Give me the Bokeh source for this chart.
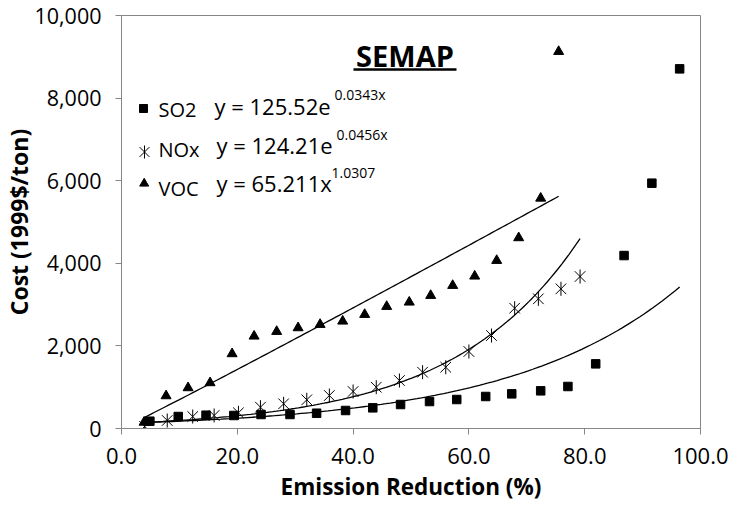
import math
from bokeh.plotting import figure
from bokeh.models import Label, NumeralTickFormatter, FixedTicker, Range1d
from bokeh.embed import file_html
from bokeh.resources import INLINE

# ---------------- data ----------------
so2_x = [4.9, 9.8, 14.6, 19.4, 24.1, 29.1, 33.7, 38.7, 43.4, 48.2,
         53.2, 57.9, 62.9, 67.4, 72.4, 77.1, 81.9, 86.8, 91.6, 96.4]
so2_y = [177, 290, 322, 315, 339, 339, 370, 436, 500, 581,
         653, 702, 775, 839, 912, 1017, 1565, 4188, 5940, 8708]

nox_x = [4.0, 7.9, 12.3, 16.0, 20.2, 24.0, 28.0, 32.0, 35.9, 40.0,
         44.0, 48.0, 52.0, 56.0, 60.0, 63.9, 67.9, 72.0, 75.9, 79.2]
nox_y = [50, 194, 290, 315, 380, 516, 598, 695, 799, 896,
         1000, 1162, 1363, 1484, 1864, 2251, 2913, 3140, 3382, 3680]

voc_x = [3.9, 7.7, 11.5, 15.3, 19.1, 22.9, 26.8, 30.5, 34.3, 38.2,
         42.0, 45.8, 49.7, 53.4, 57.2, 61.0, 64.8, 68.6, 72.4, 75.5]
voc_y = [150, 790, 985, 1106, 1808, 2235, 2348, 2437, 2518, 2598,
         2760, 2954, 3058, 3220, 3462, 3688, 4067, 4617, 5575, 9127]

# trendline coefficients (as printed on the chart)
so2_fit = (125.52, 0.0343)    # y = a * exp(b x)
nox_fit = (124.21, 0.0456)    # y = a * exp(b x)
voc_fit = (65.211, 1.0307)    # y = a * x^b

series_names = ["SO2", "NOx", "VOC"]
equations = [("y = 125.52e", "0.0343x"),
             ("y = 124.21e", "0.0456x"),
             ("y = 65.211x", "1.0307")]

x_ticks = [0, 20, 40, 60, 80, 100]
y_ticks = [0, 2000, 4000, 6000, 8000, 10000]

# ---------------- layout helpers ----------------
FL, FR, FT, FB = 120, 699, 15, 428
X0, X1, Y0, Y1 = 0, 100, 0, 10000


def dx(px):
    return X0 + (px - FL) / (FR - FL) * (X1 - X0)


def dy(py):
    return Y0 + (FB - py) / (FB - FT) * (Y1 - Y0)


def curve_exp(a, b, xs, n=120):
    lo, hi = min(xs), max(xs)
    xx = [lo + (hi - lo) * i / (n - 1) for i in range(n)]
    return xx, [a * math.exp(b * v) for v in xx]


def curve_pow(a, b, xs, n=120):
    lo, hi = min(xs), max(xs)
    xx = [lo + (hi - lo) * i / (n - 1) for i in range(n)]
    return xx, [a * v ** b for v in xx]


FONT = "Open Sans"
GRAY = "#868686"

p = figure(width=735, height=505, output_backend="svg", toolbar_location=None,
           x_range=Range1d(X0, X1), y_range=Range1d(Y0, Y1),
           min_border_left=FL, min_border_right=735 - FR,
           min_border_top=FT, min_border_bottom=505 - FB)
p.frame_width = FR - FL
p.frame_height = FB - FT

p.xgrid.visible = False
p.ygrid.visible = False
p.outline_line_color = GRAY
p.outline_line_width = 1
p.background_fill_color = "white"
p.border_fill_color = "white"

for ax in (p.xaxis[0], p.yaxis[0]):
    ax.axis_line_color = GRAY
    ax.major_tick_line_color = GRAY
    ax.major_tick_out = 6
    ax.major_tick_in = 0
    ax.minor_tick_line_color = None
    ax.major_label_text_font = FONT
    ax.major_label_text_color = "black"
    ax.axis_label_text_font = FONT
    ax.axis_label_text_font_style = "bold"
    ax.axis_label_text_color = "black"

p.xaxis.major_label_text_font_size = "22px"
p.yaxis.major_label_text_font_size = "21.5px"
p.xaxis.axis_label_text_font_size = "22.5px"
p.yaxis.axis_label_text_font_size = "23px"
p.xaxis.ticker = FixedTicker(ticks=x_ticks)
p.yaxis.ticker = FixedTicker(ticks=y_ticks)
p.xaxis.formatter = NumeralTickFormatter(format="0.0")
p.yaxis.formatter = NumeralTickFormatter(format="0,0")
p.xaxis.axis_label = "Emission Reduction (%)"
p.yaxis.axis_label = "Cost (1999$/ton)"
p.xaxis.major_label_standoff = 13
p.yaxis.major_label_standoff = 14
p.xaxis.axis_label_standoff = 4
p.yaxis.axis_label_standoff = -4

# ---------------- markers ----------------
p.scatter(so2_x, so2_y, marker="square", size=8.5, color="black")
p.scatter(nox_x, nox_y, marker="x", size=15, line_color="black", line_width=1)
p.scatter(nox_x, nox_y, marker="dash", size=14, angle=math.pi / 2,
          line_color="black", line_width=1)
p.scatter(voc_x, voc_y, marker="triangle", size=10, color="black")

# ---------------- trendlines ----------------
xx, yy = curve_exp(*so2_fit, so2_x)
p.line(xx, yy, line_color="black", line_width=1.3)
xx, yy = curve_exp(*nox_fit, nox_x)
p.line(xx, yy, line_color="black", line_width=1.3)
xx, yy = curve_pow(*voc_fit, voc_x)
p.line(xx, yy, line_color="black", line_width=1.3)

# ---------------- title ----------------
p.add_layout(Label(x=dx(403.5), y=dy(55), text="SEMAP", text_font=FONT,
                   text_font_style="bold", text_font_size="29px",
                   text_align="center", text_baseline="middle",
                   text_color="black"))
p.segment(x0=[dx(352)], y0=[dy(69)], x1=[dx(455)], y1=[dy(69)],
          line_color="black", line_width=2.5)

# ---------------- in-plot legend with equations ----------------
marker_px = [(142, 108), (143, 151.5), (142.7, 183)]
name_mid = [109, 149, 188]
eq_x = [213, 215, 215]
eq_mid = [105.5, 144.5, 182.5]
sup_x = [333, 335, 330]
sup_mid = [94, 134, 172.5]

p.scatter([dx(marker_px[0][0])], [dy(marker_px[0][1])], marker="square",
          size=8, color="black")
p.scatter([dx(marker_px[1][0])], [dy(marker_px[1][1])], marker="x",
          size=14, line_color="black")
p.scatter([dx(marker_px[1][0])], [dy(marker_px[1][1])], marker="dash",
          size=13, angle=math.pi / 2, line_color="black")
p.scatter([dx(marker_px[2][0])], [dy(marker_px[2][1])], marker="triangle",
          size=9, color="black")

for i, name in enumerate(series_names):
    p.add_layout(Label(x=dx(157), y=dy(name_mid[i]), text=name,
                       text_font=FONT, text_font_size="20px",
                       text_baseline="middle", text_color="black"))
    main, sup = equations[i]
    p.add_layout(Label(x=dx(eq_x[i]), y=dy(eq_mid[i]), text=main,
                       text_font=FONT, text_font_size="22px",
                       text_baseline="middle", text_color="black"))
    p.add_layout(Label(x=dx(sup_x[i]), y=dy(sup_mid[i]), text=sup,
                       text_font=FONT, text_font_size="14px",
                       text_baseline="middle", text_color="black"))

open("out.html", "w").write(file_html(p, INLINE))
